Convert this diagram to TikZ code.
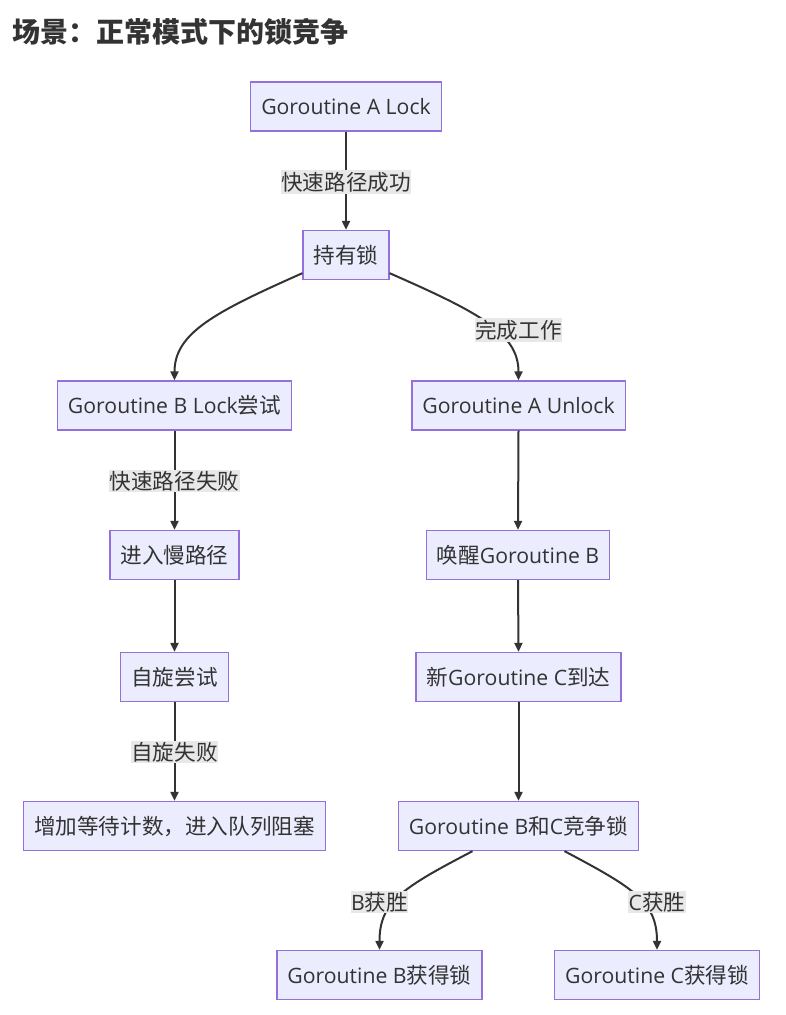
\documentclass[tikz,border=0pt]{standalone}
\usepackage{fontspec}
\setmainfont{Open Sans}
\newfontfamily\cjk{Noto Sans CJK SC}
\usetikzlibrary{arrows.meta}
\definecolor{boxfill}{HTML}{ECECFF}
\definecolor{boxline}{HTML}{9370DB}
\definecolor{ink}{HTML}{333333}
\definecolor{lblbg}{HTML}{E8E8E8}
\newcommand\zh[1]{{\cjk\fontsize{21.6}{26}\selectfont #1}}
\tikzset{
  flowbox/.style={draw=boxline, fill=boxfill, line width=1.3pt, text=ink,
    font=\fontsize{21.2}{26}\selectfont, inner xsep=10.5pt, inner ysep=0pt,
    minimum height=49pt, anchor=center},
  edgelbl/.style={fill=lblbg, text=ink, font=\fontsize{21.2}{26}\selectfont,
    inner xsep=0.5pt, inner ysep=1.5pt},
  flow/.style={draw=ink, line width=2pt, -{Triangle[length=9pt,width=8pt]}},
}
\begin{document}
\begin{tikzpicture}[x=1pt, y=-1pt]
\useasboundingbox (0,0) rectangle (785,1015);

% title
\node[anchor=west, text=ink, inner sep=0pt] (title) at (12,32)
  {\cjk\bfseries\fontsize{28}{32}\selectfont 场景：正常模式下的锁竞争};

% boxes
\node[flowbox] (alock)   at (346,106.5) {Goroutine A Lock};
\node[flowbox] (hold)    at (346,255)   {\zh{持有锁}};
\node[flowbox] (block)   at (174.5,405.5) {Goroutine B Lock\zh{尝试}};
\node[flowbox] (aunlock) at (518.5,405.5) {Goroutine A Unlock};
\node[flowbox] (slow)    at (174.5,555) {\zh{进入慢路径}};
\node[flowbox] (wake)    at (518,555)   {\zh{唤醒}Goroutine B};
\node[flowbox] (spin)    at (174.5,677) {\zh{自旋尝试}};
\node[flowbox] (newc)    at (518.5,677) {\zh{新}Goroutine C\zh{到达}};
\node[flowbox] (queue)   at (174.5,826) {\zh{增加等待计数，进入队列阻塞}};
\node[flowbox] (race)    at (518.5,826) {Goroutine B\zh{和}C\zh{竞争锁}};
\node[flowbox] (bwin)    at (379.5,975) {Goroutine B\zh{获得锁}};
\node[flowbox] (cwin)    at (657,975)   {Goroutine C\zh{获得锁}};

% connectors
\draw[flow] (alock.south) -- (hold.north);
\draw[flow] ([yshift=7pt]hold.south west) .. controls (215,312) and (174.5,333) .. (block.north);
\draw[flow] ([yshift=7pt]hold.south east) .. controls (478,312) and (518.5,333) .. (aunlock.north);
\draw[flow] (block.south) -- (slow.north);
\draw[flow] (slow.south) -- (spin.north);
\draw[flow] (spin.south) -- (queue.north);
\draw[flow] (aunlock.south) -- (wake.north);
\draw[flow] (wake.south) -- (newc.north);
\draw[flow] (newc.south) -- (race.north);
\draw[flow] ([xshift=-46pt]race.south) .. controls (402,888) and (379.5,902) .. (bwin.north);
\draw[flow] ([xshift=46pt]race.south) .. controls (634,888) and (657,902) .. (cwin.north);

% connector labels
\node[edgelbl] (l1) at (346,182)   {\zh{快速路径成功}};
\node[edgelbl] (l2) at (518.5,330) {\zh{完成工作}};
\node[edgelbl] (l3) at (174.5,481) {\zh{快速路径失败}};
\node[edgelbl] (l4) at (174.5,752) {\zh{自旋失败}};
\node[edgelbl] (l5) at (379.5,902) {B\zh{获胜}};
\node[edgelbl] (l6) at (657,902)   {C\zh{获胜}};
\end{tikzpicture}
\end{document}
